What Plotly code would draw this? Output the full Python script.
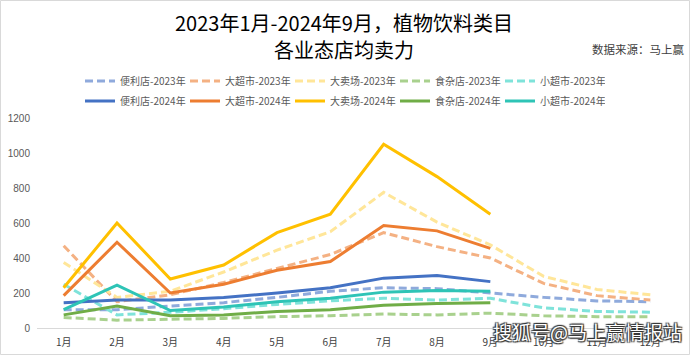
import plotly.graph_objects as go

months = ["1月", "2月", "3月", "4月", "5月", "6月", "7月", "8月", "9月", "10月", "11月", "12月"]
months_2024 = months[:9]

# 2023 series (full year)
cvs_2023 = [105, 105, 125, 145, 175, 210, 230, 225, 200, 175, 155, 150]
super_2023 = [470, 150, 190, 260, 340, 420, 545, 465, 400, 255, 185, 160]
hyper_2023 = [375, 175, 210, 320, 445, 550, 775, 605, 475, 295, 220, 190]
grocery_2023 = [60, 45, 50, 55, 65, 70, 80, 75, 85, 70, 65, 65]
mini_2023 = [250, 75, 90, 110, 135, 155, 170, 160, 170, 115, 95, 90]

# 2024 series (Jan-Sep)
cvs_2024 = [145, 160, 160, 175, 200, 230, 285, 300, 265]
super_2024 = [185, 490, 200, 250, 330, 380, 585, 555, 455]
hyper_2024 = [230, 600, 280, 360, 545, 650, 1050, 865, 650]
grocery_2024 = [75, 125, 70, 75, 95, 105, 130, 140, 145]
mini_2024 = [105, 245, 100, 120, 150, 170, 205, 215, 210]

y_ticks = [0, 200, 400, 600, 800, 1000, 1200]

series_2023 = [
    ("便利店-2023年", cvs_2023, "#8FAADC"),
    ("大超市-2023年", super_2023, "#F4B183"),
    ("大卖场-2023年", hyper_2023, "#FFE699"),
    ("食杂店-2023年", grocery_2023, "#A9D18E"),
    ("小超市-2023年", mini_2023, "#7FE3DA"),
]
series_2024 = [
    ("便利店-2024年", cvs_2024, "#4472C4"),
    ("大超市-2024年", super_2024, "#ED7D31"),
    ("大卖场-2024年", hyper_2024, "#FFC000"),
    ("食杂店-2024年", grocery_2024, "#70AD47"),
    ("小超市-2024年", mini_2024, "#2EC4B6"),
]

W, H = 690, 355
L, R, T, B = 37, 13, 118, 27
PW, PH = W - L - R, H - T - B


def px(xp):
    return (xp - L) / PW


def py(yp):
    return (H - B - yp) / PH


fig = go.Figure()
for name, vals, color in series_2023:
    fig.add_trace(go.Scatter(
        x=months, y=vals, name=name, mode="lines",
        line=dict(color=color, width=3, dash="8px,4px"),
        legend="legend",
    ))
for name, vals, color in series_2024:
    fig.add_trace(go.Scatter(
        x=months_2024, y=vals, name=name, mode="lines",
        line=dict(color=color, width=3),
        legend="legend2",
    ))

font_family = "Noto Sans CJK SC"
legend_common = dict(
    orientation="h", xref="paper", yref="paper",
    xanchor="left", yanchor="middle",
    font=dict(family=font_family, size=10, color="#595959"),
    bgcolor="rgba(0,0,0,0)", itemwidth=30, entrywidth=60,
    tracegroupgap=0, traceorder="normal",
)

fig.update_layout(
    width=W, height=H,
    margin=dict(l=L, r=R, t=T, b=B, autoexpand=False),
    paper_bgcolor="white", plot_bgcolor="white",
    showlegend=True,
    legend=dict(x=px(80), y=py(81), **legend_common),
    legend2=dict(x=px(80), y=py(101), **legend_common),
    xaxis=dict(
        type="category", showgrid=False, zeroline=False,
        showline=True, linecolor="#D9D9D9", linewidth=1,
        ticks="", ticklabelstandoff=5,
        tickfont=dict(family=font_family, size=10, color="#404040"),
        range=[-0.5, 11.5],
    ),
    yaxis=dict(
        range=[0, 1200], tickvals=y_ticks, showgrid=False, zeroline=False,
        showline=False, ticks="", ticklabelstandoff=6,
        tickfont=dict(family="Liberation Sans", size=10, color="#595959"),
    ),
    annotations=[
        dict(text="2023年1月-2024年9月，植物饮料类目", xref="paper", yref="paper",
             x=px(344), y=py(22), xanchor="center", yanchor="middle", showarrow=False,
             font=dict(family=font_family, size=20, color="#000000")),
        dict(text="各业态店均卖力", xref="paper", yref="paper",
             x=px(344), y=py(49), xanchor="center", yanchor="middle", showarrow=False,
             font=dict(family=font_family, size=20, color="#000000")),
        dict(text="数据来源：马上赢", xref="paper", yref="paper",
             x=px(686), y=py(49), xanchor="right", yanchor="middle", showarrow=False,
             font=dict(family=font_family, size=11.5, color="#404040")),
        dict(text="搜狐号@马上赢情报站", xref="paper", yref="paper",
             x=px(684), y=py(331), xanchor="right", yanchor="middle", showarrow=False,
             font=dict(family=font_family, size=19, color="#FFFFFF",
                       shadow="1px 1px 1px #333, -1px -1px 1px #333, 1px -1px 1px #333, -1px 1px 1px #333")),
    ],
    shapes=[
        dict(type="rect", xref="paper", yref="paper",
             x0=px(0.5), x1=px(689.5), y0=py(354.5), y1=py(0.5),
             line=dict(color="#D9D9D9", width=1), fillcolor="rgba(0,0,0,0)", layer="below"),
    ],
)

fig.write_html("out.html", config={"displayModeBar": False},
               post_script="document.body.style.margin='0px';")
